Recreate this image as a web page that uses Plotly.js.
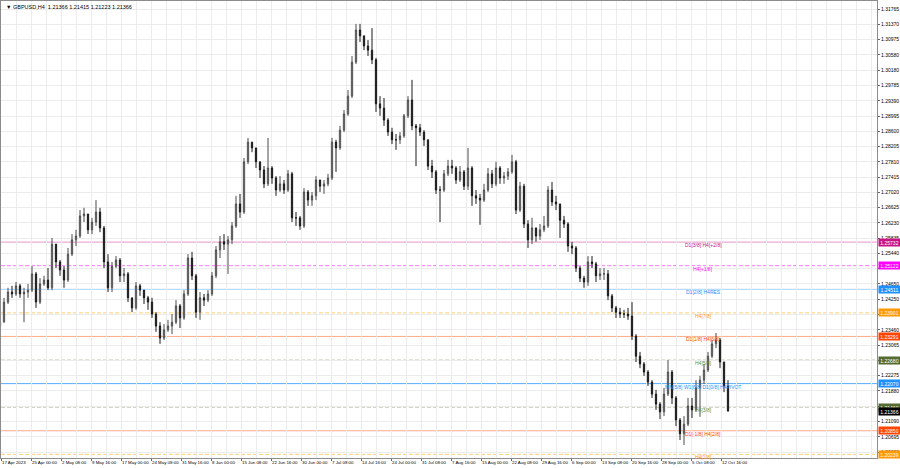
<!DOCTYPE html>
<html>
<head>
<meta charset="utf-8">
<script src="https://cdn.plot.ly/plotly-3.0.1.min.js"></script>
<style>
html,body{margin:0;padding:0;background:#ffffff;}
#chart{width:900px;height:468px;}
</style>
</head>
<body>
<div id="chart"></div>
<script>
// ---- chart data (GBPUSD, H4; each candle) ----
const symbolTitle = "GBPUSD,H4";
const lastBarOHLC = [1.21366, 1.21415, 1.21223, 1.21366];
const firstOpen = 1.2356;

const highs = [
1.2377,1.2429,1.2455,1.2460,1.2470,1.2465,1.2455,1.2465,1.2511,1.2496,
1.2480,1.2486,1.2506,1.2584,1.2568,1.2527,1.2511,1.2558,1.2594,1.2605,
1.2656,1.2662,1.2646,1.2636,1.2682,1.2662,1.2615,1.2542,1.2522,1.2537,
1.2532,1.2506,1.2496,1.2429,1.2470,1.2465,1.2449,1.2434,1.2429,1.2392,
1.2366,1.2361,1.2372,1.2387,1.2423,1.2413,1.2449,1.2542,1.2548,1.2491,
1.2444,1.2439,1.2449,1.2496,1.2563,1.2589,1.2594,1.2589,1.2625,1.2693,
1.2698,1.2791,1.2843,1.2832,1.2817,1.2781,1.2770,1.2843,1.2770,1.2744,
1.2744,1.2734,1.2760,1.2755,1.2651,1.2641,1.2713,1.2708,1.2703,1.2744,
1.2734,1.2734,1.2750,1.2843,1.2838,1.2874,1.2915,1.2967,1.3055,1.3138,
1.3138,1.3107,1.3096,1.3127,1.3050,1.2951,1.2946,1.2894,1.2869,1.2853,
1.2858,1.2905,1.2951,1.2993,1.2879,1.2879,1.2863,1.2838,1.2786,1.2760,
1.2718,1.2760,1.2786,1.2786,1.2770,1.2770,1.2760,1.2817,1.2770,1.2708,
1.2698,1.2724,1.2765,1.2760,1.2781,1.2770,1.2755,1.2765,1.2799,1.2786,
1.2729,1.2724,1.2630,1.2636,1.2610,1.2620,1.2641,1.2718,1.2729,1.2693,
1.2672,1.2641,1.2625,1.2574,1.2563,1.2511,1.2486,1.2537,1.2537,1.2522,
1.2506,1.2506,1.2501,1.2439,1.2408,1.2403,1.2398,1.2403,1.2418,1.2335,
1.2289,1.2263,1.2242,1.2216,1.2191,1.2159,1.2196,1.2268,1.2242,1.2175,
1.2118,1.2123,1.2170,1.2170,1.2216,1.2227,1.2258,1.2289,1.2320,1.2338,
1.2325,1.2263,1.2216
];

const lows = [
1.2351,1.2366,1.2413,1.2429,1.2434,1.2429,1.2366,1.2429,1.2444,1.2403,
1.2413,1.2460,1.2449,1.2449,1.2506,1.2486,1.2455,1.2470,1.2537,1.2563,
1.2584,1.2625,1.2594,1.2594,1.2615,1.2599,1.2506,1.2444,1.2444,1.2506,
1.2470,1.2470,1.2418,1.2392,1.2398,1.2434,1.2413,1.2398,1.2377,1.2341,
1.2310,1.2320,1.2341,1.2335,1.2361,1.2351,1.2372,1.2434,1.2475,1.2377,
1.2372,1.2408,1.2418,1.2434,1.2480,1.2532,1.2553,1.2491,1.2568,1.2610,
1.2636,1.2646,1.2775,1.2806,1.2765,1.2739,1.2713,1.2718,1.2724,1.2693,
1.2703,1.2698,1.2703,1.2625,1.2615,1.2605,1.2610,1.2667,1.2667,1.2682,
1.2703,1.2698,1.2718,1.2734,1.2755,1.2812,1.2858,1.2900,1.2946,1.3034,
1.3091,1.3070,1.3055,1.3034,1.2910,1.2900,1.2874,1.2848,1.2827,1.2812,
1.2827,1.2843,1.2894,1.2863,1.2770,1.2848,1.2822,1.2760,1.2739,1.2698,
1.2625,1.2703,1.2744,1.2750,1.2724,1.2729,1.2708,1.2708,1.2667,1.2672,
1.2618,1.2677,1.2703,1.2713,1.2718,1.2724,1.2724,1.2734,1.2750,1.2646,
1.2651,1.2610,1.2558,1.2568,1.2574,1.2579,1.2599,1.2610,1.2667,1.2656,
1.2584,1.2610,1.2548,1.2542,1.2496,1.2470,1.2455,1.2460,1.2506,1.2470,
1.2475,1.2475,1.2423,1.2392,1.2377,1.2377,1.2377,1.2372,1.2320,1.2263,
1.2247,1.2227,1.2201,1.2170,1.2139,1.2115,1.2123,1.2175,1.2154,1.2097,
1.2061,1.2048,1.2097,1.2118,1.2134,1.2121,1.2206,1.2237,1.2273,1.2299,
1.2247,1.2185,1.2134
];

const closes = [
1.2366,1.2418,1.2444,1.2439,1.2460,1.2439,1.2444,1.2449,1.2491,1.2418,
1.2465,1.2475,1.2455,1.2568,1.2522,1.2501,1.2475,1.2542,1.2579,1.2589,
1.2641,1.2646,1.2605,1.2625,1.2651,1.2610,1.2522,1.2455,1.2511,1.2527,
1.2486,1.2491,1.2429,1.2403,1.2460,1.2449,1.2429,1.2418,1.2387,1.2356,
1.2325,1.2346,1.2356,1.2366,1.2408,1.2377,1.2439,1.2532,1.2486,1.2392,
1.2429,1.2423,1.2439,1.2486,1.2553,1.2574,1.2568,1.2579,1.2615,1.2672,
1.2651,1.2781,1.2832,1.2817,1.2781,1.2760,1.2724,1.2765,1.2739,1.2708,
1.2724,1.2708,1.2750,1.2636,1.2636,1.2615,1.2703,1.2682,1.2693,1.2734,
1.2718,1.2724,1.2739,1.2832,1.2817,1.2863,1.2905,1.2951,1.3039,1.3122,
1.3107,1.3081,1.3070,1.3045,1.2931,1.2920,1.2889,1.2858,1.2838,1.2838,
1.2848,1.2900,1.2941,1.2874,1.2869,1.2858,1.2838,1.2770,1.2755,1.2708,
1.2708,1.2750,1.2770,1.2765,1.2734,1.2755,1.2718,1.2765,1.2693,1.2687,
1.2682,1.2708,1.2750,1.2724,1.2765,1.2739,1.2744,1.2755,1.2781,1.2656,
1.2718,1.2620,1.2579,1.2610,1.2589,1.2605,1.2615,1.2708,1.2677,1.2672,
1.2630,1.2620,1.2563,1.2558,1.2506,1.2480,1.2470,1.2522,1.2517,1.2486,
1.2491,1.2491,1.2434,1.2403,1.2392,1.2387,1.2387,1.2382,1.2330,1.2278,
1.2258,1.2237,1.2211,1.2180,1.2154,1.2134,1.2180,1.2237,1.2170,1.2113,
1.2077,1.2102,1.2149,1.2139,1.2196,1.2216,1.2242,1.2278,1.2310,1.2320,
1.2263,1.2201,1.21366
];

const timeLabels = ["17 Apr 2023","25 Apr 00:00","2 May 08:00","9 May 16:00","17 May 00:00","24 May 08:00","31 May 16:00","8 Jun 00:00","15 Jun 08:00","22 Jun 16:00","30 Jun 00:00","7 Jul 08:00","14 Jul 16:00","24 Jul 00:00","31 Jul 08:00","7 Aug 16:00","15 Aug 00:00","22 Aug 08:00","29 Aug 16:00","6 Sep 00:00","13 Sep 08:00","20 Sep 16:00","28 Sep 00:00","5 Oct 08:00","12 Oct 16:00"];

const priceTicks = [1.31765,1.31370,1.30975,1.30580,1.30180,1.29785,1.29390,1.28995,1.28600,1.28205,1.27810,1.27415,1.27020,1.26625,1.26230,1.25835,1.25440,1.25045,1.24650,1.24250,1.23855,1.23460,1.23065,1.22670,1.22275,1.21880,1.21485,1.21090,1.20695,1.20300];
// tick labels that the reference hides behind the level price boxes
const hiddenPriceTicks = [1.25045,1.23855,1.22670,1.21485];

const levelValues = [1.25732,1.25122,1.24511,1.23901,1.23291,1.22680,1.22070,1.21460,1.20850,1.20239];
const levelLabels = ["D1[3/8] H4[+2/8]","H4[+1/8]","D1[2/8] H4RES","H4[7/8]","D1[1/8] H4[6/8]","H4[5/8]","MN[5/8] W1[6/8] D1[0/8] H4PIVOT","H4[3/8]","D1[-1/8] H4[2/8]","H4[1/8]"];
const currentPrice = 1.21366;

// ---- styles ----
const levelBoxColors  = ["#C71585","#FF00FF","#1E90FF","#FF9900","#FF4500","#556B2F","#1E90FF","#556B2F","#FF4500","#FF9900"];
const levelTextColors = ["#C71585","#FF00FF","#1E90FF","#FF9900","#FF4500","#6B8E23","#1E90FF","#6B8E23","#FF4500","#FF9900"];
const levelLineColors = ["rgba(199,21,133,0.45)","rgba(255,0,255,0.55)","rgba(30,144,255,0.4)","rgba(255,165,0,0.55)","rgba(255,69,0,0.45)","rgba(150,150,110,0.6)","rgba(30,144,255,0.75)","rgba(150,150,110,0.6)","rgba(255,69,0,0.45)","rgba(255,165,0,0.55)"];
const levelDash = ["solid","4px,2px","solid","4px,2px","solid","4px,2px","solid","4px,2px","solid","4px,2px"];

const FONT = "Liberation Sans, Arial, sans-serif";
const FS = 5;
const FS_TIME = 4.4;

const xIdx = closes.map((_, i) => i);
const opens = [firstOpen].concat(closes.slice(0, -1));

const candlesPerLabel = 7.5;
const firstLabelPos = 0.25;
const tickVals = timeLabels.map((_, k) => firstLabelPos + k * candlesPerLabel);

const trace = {
  type: "candlestick",
  x: xIdx, open: opens, high: highs, low: lows, close: closes,
  increasing: { line: { color: "#4a4a4a", width: 1 }, fillcolor: "#ffffff" },
  decreasing: { line: { color: "#1a1a1a", width: 1 }, fillcolor: "#1a1a1a" },
  whiskerwidth: 0,
  hoverinfo: "skip"
};

const shapes = levelValues.map((v, i) => ({
  type: "line", xref: "paper", yref: "y", x0: 0, x1: 1, y0: v, y1: v,
  line: { color: levelLineColors[i], width: 1, dash: levelDash[i] },
  layer: "below"
}));

const annotations = [];
levelValues.forEach((v, i) => {
  annotations.push({
    xref: "paper", yref: "y", x: 0.8014, y: v, yshift: -3,
    text: levelLabels[i], showarrow: false, xanchor: "center", yanchor: "middle",
    font: { family: FONT, size: FS, color: levelTextColors[i] }
  });
  annotations.push({
    xref: "paper", yref: "y", x: 1, y: v, xshift: 1,
    text: v.toFixed(5), showarrow: false, xanchor: "left", yanchor: "middle",
    bgcolor: levelBoxColors[i], borderpad: 0.5, width: 20, height: 6,
    font: { family: FONT, size: FS, color: "#ffffff" }
  });
});
annotations.push({
  xref: "paper", yref: "y", x: 1, y: currentPrice, xshift: 1, yshift: -1,
  text: currentPrice.toFixed(5), showarrow: false, xanchor: "left", yanchor: "middle",
  bgcolor: "#000000", borderpad: 0.5, width: 20, height: 6,
  font: { family: FONT, size: FS, color: "#ffffff" }
});
annotations.push({
  xref: "paper", yref: "paper", x: 0.003, y: 0.997, xanchor: "left", yanchor: "top",
  text: "▼ " + symbolTitle + "  " + lastBarOHLC.map(v => v.toFixed(5)).join(" "),
  showarrow: false, font: { family: FONT, size: 5.5, color: "#000000" }
});
// time-axis labels, left-aligned at their tick as in the terminal
timeLabels.forEach((t, k) => {
  annotations.push({
    xref: "x", yref: "paper", x: tickVals[k], y: 0, xanchor: "left", yanchor: "top",
    xshift: 0, yshift: -1, borderpad: 0,
    text: t, showarrow: false, font: { family: FONT, size: FS_TIME, color: "#000000" }
  });
});

const layout = {
  width: 900, height: 468,
  margin: { l: 1, r: 23, t: 1, b: 10, pad: 0 },
  paper_bgcolor: "#ffffff", plot_bgcolor: "#ffffff",
  showlegend: false,
  boxgap: 0.55,
  font: { family: FONT, size: FS, color: "#000000" },
  xaxis: {
    range: [0.25, 219.25], tickmode: "array", tickvals: tickVals, showticklabels: false,
    ticks: "outside", ticklen: 2, tickcolor: "#666",
    showgrid: true, gridcolor: "#ececec", gridwidth: 1,
    minor: { tickmode: "linear", tick0: firstLabelPos, dtick: candlesPerLabel / 2, showgrid: true, gridcolor: "#ececec", ticks: "" },
    showline: true, linecolor: "#8c8c8c", mirror: true, zeroline: false,
    rangeslider: { visible: false }, fixedrange: true
  },
  yaxis: {
    side: "right", range: [1.20145, 1.31972],
    tickmode: "array", tickvals: priceTicks,
    ticktext: priceTicks.map(v => hiddenPriceTicks.includes(v) ? "" : v.toFixed(5)),
    ticks: "outside", ticklen: 2, tickcolor: "#666",
    showgrid: true, gridcolor: "#ececec", gridwidth: 1,
    showline: true, linecolor: "#8c8c8c", mirror: true, zeroline: false, fixedrange: true,
    tickfont: { family: FONT, size: FS, color: "#000" }
  },
  shapes: shapes,
  annotations: annotations
};

Plotly.newPlot("chart", [trace], layout, { displayModeBar: false, staticPlot: true });
</script>
</body>
</html>
